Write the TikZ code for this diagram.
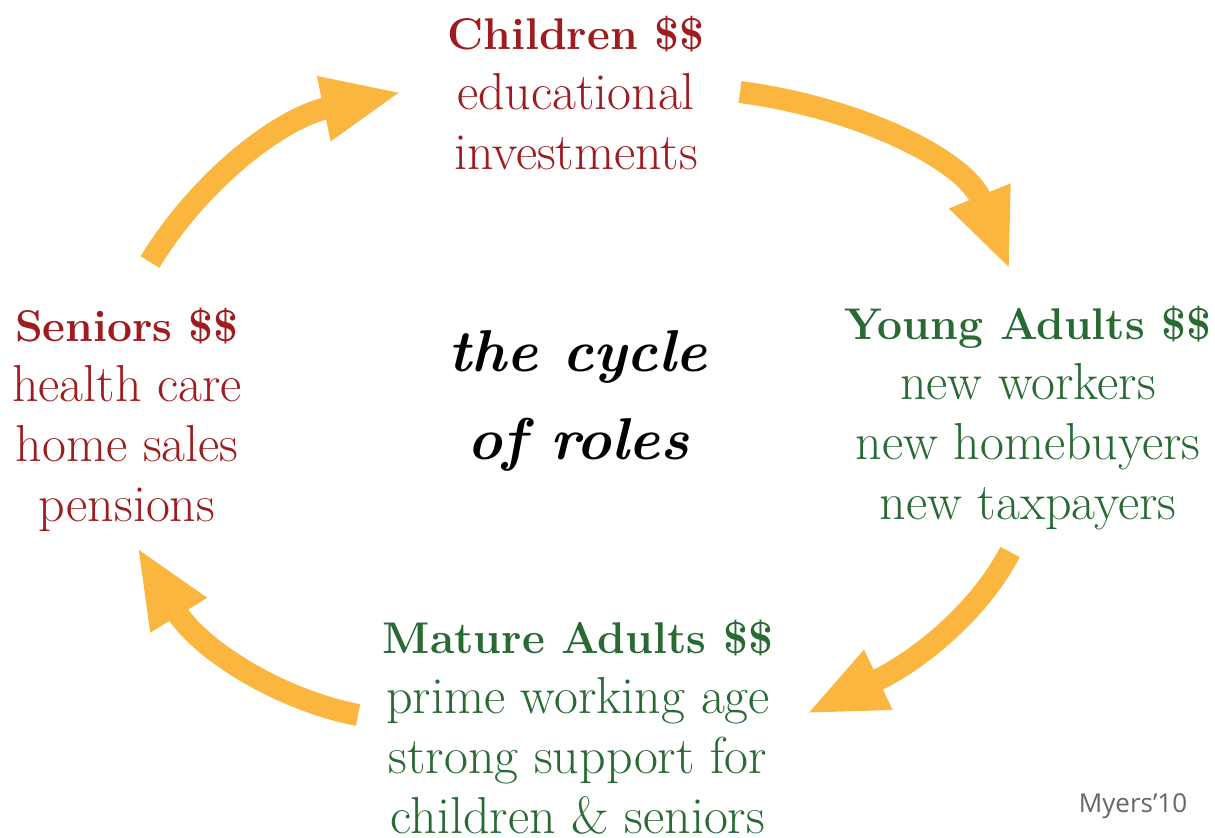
\documentclass[tikz,border=0pt]{standalone}
\usetikzlibrary{arrows.meta}
\usepackage{fontspec}
\newfontfamily\creditfont{Open Sans}
\definecolor{rolered}{RGB}{158,27,32}
\definecolor{rolegreen}{RGB}{40,105,52}
\definecolor{arrowc}{RGB}{250,182,62}
\newcommand{\grouphead}[1]{{\fontsize{22.2}{30}\selectfont\bfseries #1}}
\begin{document}
\begin{tikzpicture}[x=0.5pt,y=-0.5pt,
  grp/.style={align=center, inner sep=0pt, font=\fontsize{26}{30}\selectfont},
  centre/.style={align=center, inner sep=0pt, font=\fontsize{29.5}{44}\selectfont\bfseries\itshape},
  cyc/.style={line width=11pt, draw=arrowc, -{Triangle[length=40pt,width=30pt]}}]
\useasboundingbox[fill=white] (0,0) rectangle (1215,838);

\node[grp, anchor=north, text=rolered] (children) at (576,16)
  {\grouphead{Children \$\$}\\educational\\investments};
\node[grp, anchor=north, text=rolered] (seniors) at (127,308)
  {\grouphead{Seniors \$\$}\\health care\\home sales\\pensions};
\node[grp, anchor=north, text=rolegreen] (young) at (1028,306)
  {\grouphead{Young Adults \$\$}\\new workers\\new homebuyers\\new taxpayers};
\node[grp, anchor=north, text=rolegreen] (mature) at (578,620)
  {\grouphead{Mature Adults \$\$}\\prime working age\\strong support for\\children \& seniors};
\node[centre, anchor=north] (cycle) at (578,330) {the cycle\\of roles};
\node[inner sep=0pt, text=black!60, font=\creditfont\fontsize{13}{15}\selectfont] (credit) at (1133,806) {Myers’10};

\coordinate (a1s) at (150,262); \coordinate (a1e) at (402,92);
\coordinate (a2s) at (740,92);  \coordinate (a2e) at (1010,270);
\coordinate (a3s) at (1010,552); \coordinate (a3e) at (806,714);
\coordinate (a4s) at (358,715); \coordinate (a4e) at (137,547);

\draw[cyc] (a1s) .. controls (200,180) and (280,118) .. (a1e);
\draw[cyc] (a2s) .. controls (860,108) and (965,160) .. (a2e);
\draw[cyc] (a3s) .. controls (980,610) and (920,660) .. (a3e);
\draw[cyc] (a4s) .. controls (280,700) and (200,650) .. (a4e);
\end{tikzpicture}
\end{document}
